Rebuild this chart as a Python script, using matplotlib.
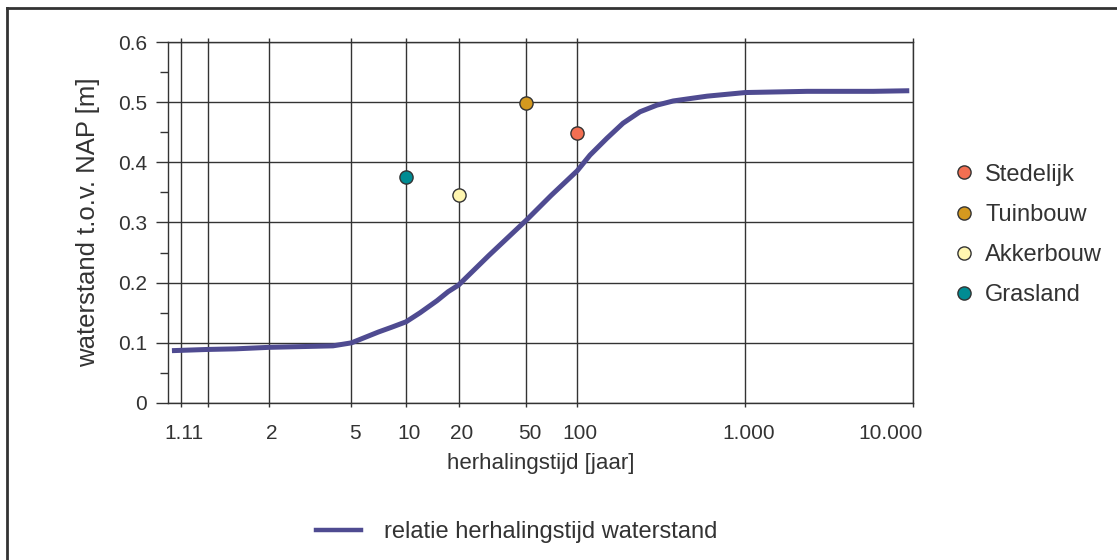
import numpy as np
import matplotlib
matplotlib.use("Agg")
import matplotlib.pyplot as plt
from matplotlib.lines import Line2D
from matplotlib.ticker import MultipleLocator, NullLocator
from matplotlib.transforms import ScaledTranslation

plt.rcParams['font.family'] = ['Liberation Sans', 'DejaVu Sans']

# relatie herhalingstijd (jaar) - waterstand (m t.o.v. NAP)
T_curve = [1.078, 1.25, 1.5, 2, 3, 4, 5, 7, 8.3, 10, 12, 15, 17.4, 20, 30,
           50, 70, 100, 119, 150, 187, 236, 297, 372, 469, 593, 1000, 2343,
           5800, 9500]
h_curve = [0.087, 0.089, 0.090, 0.0925, 0.094, 0.095, 0.100, 0.118, 0.126,
           0.135, 0.150, 0.170, 0.185, 0.196, 0.245, 0.304, 0.345, 0.386,
           0.412, 0.440, 0.465, 0.484, 0.495, 0.502, 0.506, 0.510, 0.516,
           0.518, 0.518, 0.519]

# normen per landgebruik
namen = ['Stedelijk', 'Tuinbouw', 'Akkerbouw', 'Grasland']
T_norm = [100, 50, 20, 10]
h_norm = [0.448, 0.498, 0.345, 0.375]
kleuren = ['#f26f52', '#d4991f', '#fff6b0', '#008c93']

xticks = [1.11, 1.25, 2, 5, 10, 20, 50, 100, 1000, 10000]
xticklabels = ['1.11', '', '2', '5', '10', '20', '50', '100', '1.000', '10.000']
yticks = [0, 0.1, 0.2, 0.3, 0.4, 0.5, 0.6]
yticklabels = ['0', '0.1', '0.2', '0.3', '0.4', '0.5', '0.6']

grijs = '#333333'
lijn = '#4f4b91'


def gumbel(T):
    T = np.asarray(T, dtype=float)
    with np.errstate(all='ignore'):
        return -np.log(-np.log(1 - 1 / T))


def gumbel_inv(y):
    y = np.asarray(y, dtype=float)
    with np.errstate(all='ignore'):
        return 1 / (1 - np.exp(-np.exp(-y)))


fig = plt.figure(figsize=(11.17, 5.6), dpi=100)
ax = fig.add_axes([168 / 1117, 1 - 403 / 560, (913 - 168) / 1117, (403 - 42) / 560])

ax.set_xscale('function', functions=(gumbel, gumbel_inv))
ax.set_xlim(1.0667, 10000)
ax.set_ylim(0, 0.6)

ax.plot(T_curve, h_curve, color=lijn, lw=3.6, solid_capstyle='butt',
        solid_joinstyle='round', zorder=3)
for T, h, k in zip(T_norm, h_norm, kleuren):
    ax.plot(T, h, 'o', ms=9.5, mfc=k, mec=grijs, mew=1.0, zorder=4)

ax.set_xticks(xticks)
ax.set_xticklabels(xticklabels)
ax.xaxis.set_minor_locator(NullLocator())
ax.set_yticks(yticks)
ax.set_yticklabels(yticklabels)
ax.yaxis.set_minor_locator(MultipleLocator(0.05))

ax.grid(True, which='major', color=grijs, lw=1.0)
ax.tick_params(axis='x', which='major', direction='out', length=3, width=1,
               color=grijs, top=True, labelsize=15, labelcolor=grijs, pad=12)
ax.tick_params(axis='y', which='major', direction='out', length=9, width=1,
               color=grijs, labelsize=15, labelcolor=grijs, pad=6)
ax.tick_params(axis='y', which='minor', direction='out', length=6, width=1,
               color=grijs)
for s in ax.spines.values():
    s.set_color(grijs)
    s.set_linewidth(1.0)

# labels iets naar rechts, de laatste binnen de as houden
labels = ax.get_xticklabels()
for i, lbl in enumerate(labels):
    dx = -22 if i == len(labels) - 1 else 3
    lbl.set_transform(lbl.get_transform() + ScaledTranslation(dx / 100, 0, fig.dpi_scale_trans))

ax.set_xlabel('herhalingstijd [jaar]', fontsize=16, color=grijs, labelpad=7)
ax.set_ylabel('waterstand t.o.v. NAP [m]', fontsize=18.5, color=grijs, labelpad=13)

# legenda rechts
handles = [Line2D([], [], ls='none', marker='o', ms=9.5, mfc=k, mec=grijs, mew=1.0)
           for k in kleuren]
fig.legend(handles, namen, loc='center left', bbox_to_anchor=(952 / 1117, 1 - 235 / 560),
           frameon=False, fontsize=17, handlelength=1.0, handletextpad=0.4,
           labelspacing=0.77, borderpad=0, borderaxespad=0, labelcolor=grijs)

# legenda onder
fig.legend([Line2D([], [], color=lijn, lw=3.2)], ['relatie herhalingstijd waterstand'],
           loc='center left', bbox_to_anchor=(316 / 1117, 1 - 532 / 560),
           frameon=False, fontsize=17, handlelength=1.9, handletextpad=1.0,
           borderpad=0, borderaxespad=0, labelcolor=grijs)

# rand om de figuur (links en boven)
fig.add_artist(Line2D([7 / 1117, 7 / 1117], [0, 1 - 8 / 560], color=grijs, lw=2))
fig.add_artist(Line2D([7 / 1117, 1], [1 - 8 / 560, 1 - 8 / 560], color=grijs, lw=2))

fig.savefig('out.png', dpi=100)
